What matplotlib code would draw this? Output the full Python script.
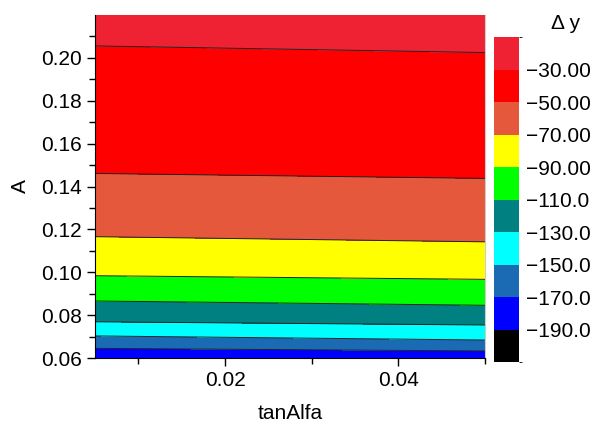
import matplotlib
matplotlib.use("Agg")
import matplotlib.pyplot as plt
from matplotlib.colors import ListedColormap, BoundaryNorm
import numpy as np

plt.rcParams["font.family"] = ["Liberation Sans", "DejaVu Sans"]

# tanAlfa at the two edges of the plot (columns) and A (rows)
tan_alfa = [0.005, 0.05]
a_vals = [0.06, 0.0633, 0.0645, 0.0684, 0.0703, 0.0754, 0.0769, 0.0846,
          0.0866, 0.0967, 0.0984, 0.1142, 0.1166, 0.1438, 0.1461, 0.2025,
          0.2056, 0.22]

# delta y, one list per tanAlfa column
dy_left = [-185.0, -174.1, -170.0, -156.6, -150.0, -134.5, -130.0, -114.1,
           -110.0, -92.9, -90.0, -72.6, -70.0, -51.6, -50.0, -31.0,
           -30.0, -26.0]
dy_right = [-183.0, -170.0, -165.3, -150.0, -144.6, -130.0, -126.7, -110.0,
            -106.7, -90.0, -88.1, -70.0, -68.4, -50.0, -49.2, -30.0,
            -29.1, -25.0]

levels = [-210, -190, -170, -150, -130, -110, -90, -70, -50, -30, -10]
level_labels = ["\u2212190.0", "\u2212170.0", "\u2212150.0", "\u2212130.0",
                "\u2212110.0", "\u221290.00", "\u221270.00", "\u221250.00",
                "\u221230.00"]
colors = ["#000000", "#0000ff", "#1a6bb4", "#00ffff", "#008080",
          "#00ff00", "#ffff00", "#e6583c", "#ff0000", "#ee2233"]

X, Y = np.meshgrid(tan_alfa, a_vals)
Z = np.column_stack([dy_left, dy_right])

cmap = ListedColormap(colors)
norm = BoundaryNorm(levels, cmap.N)

fig = plt.figure(figsize=(5.92, 4.25), dpi=100)
ax = fig.add_axes([0.1605, 0.1576, 0.659, 0.807])
cax = fig.add_axes([0.835, 0.1475, 0.0411, 0.7647])

cf = ax.contourf(X, Y, Z, levels=levels, cmap=cmap, norm=norm)
ax.contour(X, Y, Z, levels=levels[1:-1], colors="#222222", linewidths=0.7,
           linestyles="solid", negative_linestyles="solid")

ax.set_xlim(0.005, 0.05)
ax.set_ylim(0.06, 0.22)
ax.set_xticks([0.02, 0.04])
ax.set_xticklabels(["0.02", "0.04"])
ax.set_xticks([0.01, 0.03, 0.05], minor=True)
ax.set_yticks([0.06, 0.08, 0.10, 0.12, 0.14, 0.16, 0.18, 0.20])
ax.set_yticklabels(["0.06", "0.08", "0.10", "0.12", "0.14", "0.16", "0.18", "0.20"])
ax.set_yticks(np.arange(0.07, 0.215, 0.02), minor=True)
ax.tick_params(labelsize=15, direction="out", length=6, width=1)
ax.tick_params(which="minor", length=4, width=1)
ax.spines["top"].set_visible(False)
ax.spines["right"].set_color("#cccccc")
ax.set_xlabel("tanAlfa", fontsize=15, labelpad=10)
ax.set_ylabel("A", fontsize=15, labelpad=8)

cb = fig.colorbar(cf, cax=cax)
cb.set_ticks(levels[1:-1])
cb.set_ticklabels(level_labels)
cb.ax.tick_params(length=0, labelsize=15, pad=5)
cb.outline.set_visible(False)
fig.text(0.955, 0.945, "\u0394 y", fontsize=15, ha="center", va="center")

fig.savefig("out.png", dpi=100)
